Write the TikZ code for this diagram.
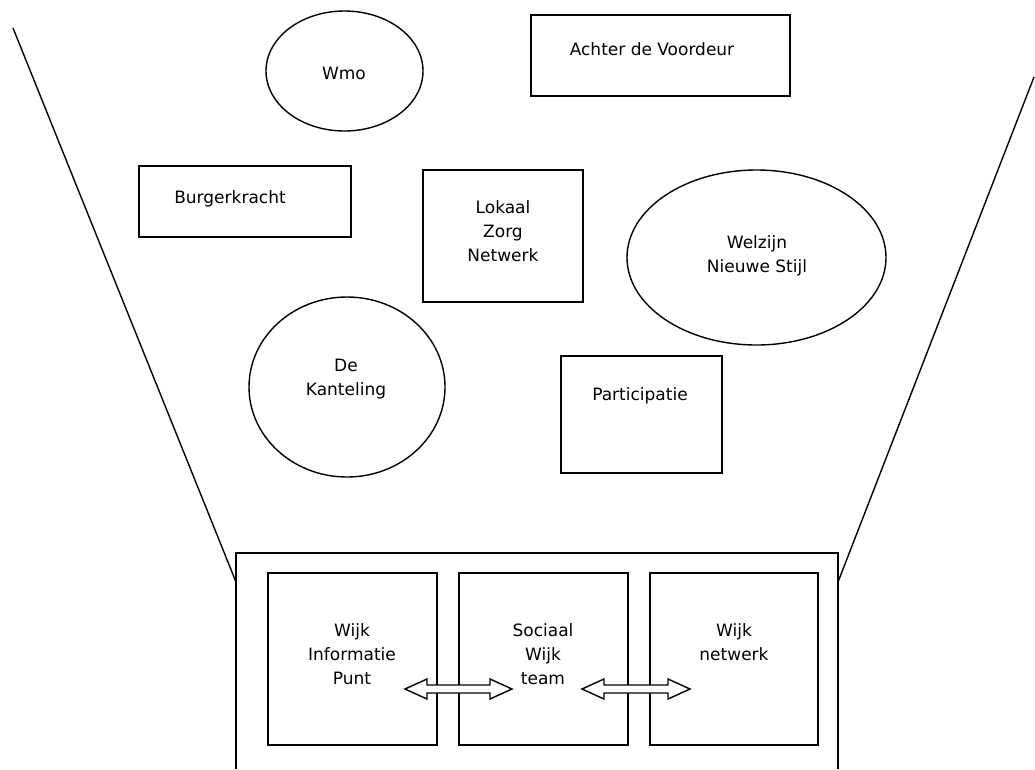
\documentclass[tikz,border=0pt]{standalone}
\usepackage{fontspec}
\setmainfont{DejaVu Sans}
\usetikzlibrary{shapes.geometric}
\begin{document}
\begin{tikzpicture}[x=1pt,y=-1pt,
  every node/.style={font=\fontsize{17}{24}\selectfont, align=center, inner sep=0pt},
  shape box/.style={draw, line width=1.4pt},
  ell/.style={draw, line width=1.4pt, ellipse},
  funnel/.style={line width=1.4pt}]
\useasboundingbox (0,0) rectangle (1035,769);
% funnel
\coordinate (fl1) at (13,28);
\coordinate (fl2) at (236,582);
\coordinate (fr1) at (1034,77);
\coordinate (fr2) at (838,582);
\draw[funnel] (fl1) -- (fl2);
\draw[funnel] (fr1) -- (fr2);
% outer open box
\draw[funnel] (236,769) -- (236,553) -- (838,553) -- (838,769);
% shapes
\node[ell, minimum width=157pt, minimum height=120pt] (wmo) at (344.5,71) {};
\node at (344,73) {Wmo};
\draw[shape box] (531,15) rectangle (790,96);
\node (adv) at (652,49) {Achter de Voordeur};
\draw[shape box] (139,166) rectangle (351,237);
\node (bk) at (230,199) {Burgerkracht};
\draw[shape box] (423,170) rectangle (583,302);
\node (lzn) at (503,231) {Lokaal\\Zorg\\Netwerk};
\node[ell, minimum width=259pt, minimum height=175pt] (wns) at (756.5,257.5) {};
\node at (757,256) {Welzijn\\Nieuwe Stijl};
\node[ell, minimum width=196pt, minimum height=180pt] (dk) at (347,387) {};
\node at (346,379) {De\\Kanteling};
\draw[shape box] (561,356) rectangle (722,473);
\node (part) at (640,396) {Participatie};
% inner boxes
\draw[shape box] (268,573) rectangle (437,745);
\node (wip) at (352,654) {Wijk\\Informatie\\Punt};
\draw[shape box] (459,573) rectangle (628,745);
\node (swt) at (543,654) {Sociaal\\Wijk\\team};
\draw[shape box] (650,573) rectangle (818,745);
\node (wn) at (734,642) {Wijk\\netwerk};
% block arrows
\foreach \a/\b in {405/512, 582/690}{
  \draw[line width=1.4pt, fill=white]
    (\a,689) -- (\a+22,679) -- (\a+22,685) -- (\b-22,685) -- (\b-22,679) -- (\b,689)
    -- (\b-22,699) -- (\b-22,693) -- (\a+22,693) -- (\a+22,699) -- cycle;
}
\end{tikzpicture}
\end{document}
